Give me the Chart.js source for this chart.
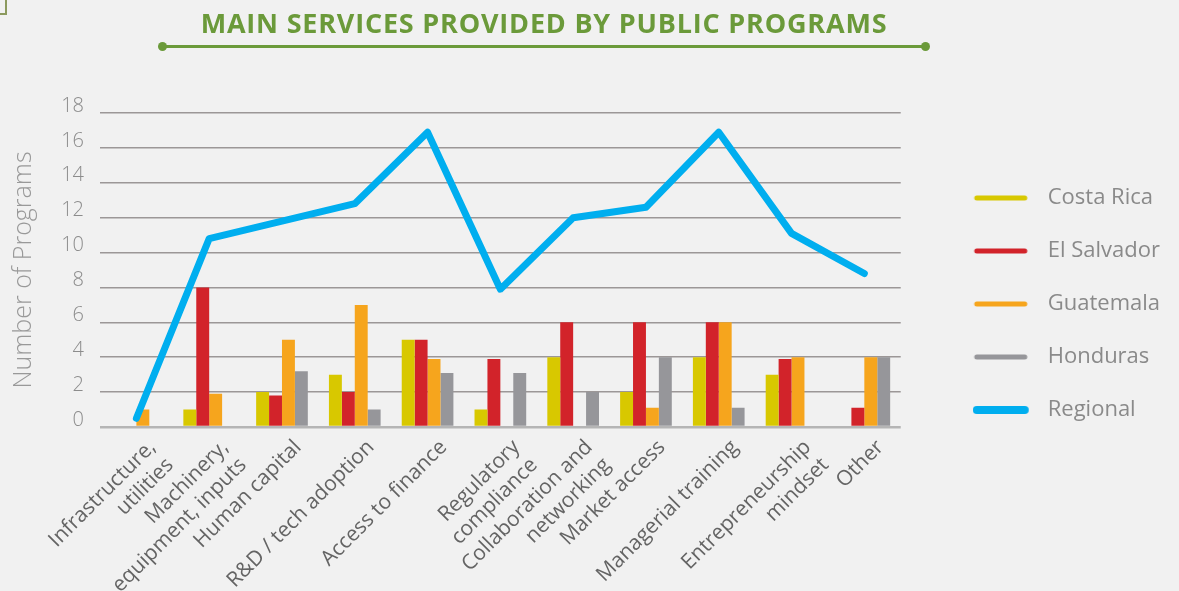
<!DOCTYPE html>
<html>
<head>
<meta charset="utf-8">
<script src="https://cdn.jsdelivr.net/npm/chart.js@4"></script>
<style>
  body { margin: 0; background: #f1f1f1; }
  #wrap { position: relative; width: 1179px; height: 591px; overflow: hidden; }
  #servicesChart { position: absolute; left: 0; top: 0; }
  .corner { position: absolute; left: -2px; top: -2px; width: 7px; height: 15px;
    border-right: 2px solid #8c9a5e; border-bottom: 2px solid #8c9a5e; }
  #title { position: absolute; left: 112px; width: 864px; top: 4px; text-align: center;
    font-family: 'Open Sans', sans-serif; font-weight: 700; font-size: 27px; color: #6b9a3a;
    letter-spacing: 0.8px; z-index: 2; }
  #rule { position: absolute; left: 162px; top: 45px; width: 764px; height: 3px; background: #6b9a3a; z-index: 2; }
  #rule span { position: absolute; top: -3px; width: 9px; height: 9px; border-radius: 50%; background: #6b9a3a; }
</style>
</head>
<body>
<div id="wrap">
  <div class="corner"></div>
  <div id="title">MAIN SERVICES PROVIDED BY PUBLIC PROGRAMS</div>
  <div id="rule"><span style="left:-4px"></span><span style="right:-4px"></span></div>
  <canvas id="servicesChart" width="1179" height="591"></canvas>
</div>
<script>
// services (x axis)
const categories = [
  ['Infrastructure,', 'utilities'], ['Machinery,', 'equipment, inputs'], 'Human capital',
  'R&D / tech adoption', 'Access to finance', ['Regulatory', 'compliance'],
  ['Collaboration and', 'networking'], 'Market access', 'Managerial training',
  ['Entrepreneurship', 'mindset'], 'Other'
]

// number of programs per country
const costaRica  = [0, 1, 2, 3, 5, 1, 4, 2, 4, 3, 0]
const elSalvador = [0, 8, 1.8, 2, 5, 3.9, 6, 6, 6, 3.9, 1.1]
const guatemala  = [1, 1.9, 5, 7, 3.9, 0, 0, 1.1, 6, 4, 4]
const honduras   = [0, 0, 3.2, 1, 3.1, 3.1, 2, 4, 1.1, 0, 4]
const regional   = [0.5, 10.8, 11.8, 12.8, 16.9, 7.9, 12, 12.6, 16.9, 11.1, 8.8]

const seriesNames = ['Costa Rica', 'El Salvador', 'Guatemala', 'Honduras', 'Regional']
const seriesColors = ['#d8c800', '#d2232a', '#f6a51d', '#96969a', '#00aeef']
const yTicks = [0, 2, 4, 6, 8, 10, 12, 14, 16, 18]

// little rounded stroke used as legend marker
function legendStroke(color, width) {
  const c = document.createElement('canvas')
  c.width = 64
  c.height = 10
  const g = c.getContext('2d')
  g.strokeStyle = color
  g.lineWidth = width
  g.lineCap = 'round'
  g.beginPath()
  g.moveTo(4, 5)
  g.lineTo(52, 5)
  g.stroke()
  return c
}

const barSeries = [costaRica, elSalvador, guatemala, honduras]
const datasets = barSeries.map((vals, i) => ({
  type: 'bar',
  label: seriesNames[i],
  data: vals,
  backgroundColor: seriesColors[i],
  borderWidth: 0,
  categoryPercentage: 0.71,
  barPercentage: 1,
  order: 1,
  xAxisID: 'x',
  yAxisID: 'y'
}))
datasets.push({
  type: 'line',
  label: seriesNames[4],
  data: regional,
  borderColor: seriesColors[4],
  borderWidth: 7,
  borderCapStyle: 'round',
  borderJoinStyle: 'round',
  pointRadius: 0,
  tension: 0,
  order: 0,
  xAxisID: 'x',
  yAxisID: 'y'
})

const grey = '#8a8a8a'

new Chart(document.getElementById('servicesChart').getContext('2d'), {
  type: 'bar',
  data: { labels: categories, datasets: datasets },
  options: {
    responsive: false,
    animation: false,
    layout: { padding: { top: 17, right: 9, bottom: 0, left: 0 } },
    plugins: {
      tooltip: { enabled: false },
      legend: {
        position: 'right',
        maxWidth: 320,
        labels: {
          usePointStyle: true,
          pointStyleWidth: 64,
          padding: 31,
          color: grey,
          font: { family: 'Open Sans', size: 22 },
          generateLabels: chart => chart.data.datasets.map((ds, i) => ({
            text: ds.label,
            pointStyle: legendStroke(seriesColors[i], i === 4 ? 8 : 5),
            fillStyle: seriesColors[i],
            strokeStyle: seriesColors[i],
            lineWidth: 0,
            fontColor: grey,
            hidden: false,
            datasetIndex: i
          }))
        }
      }
    },
    scales: {
      x: {
        position: 'bottom',
        offset: true,
        grid: { display: false },
        border: { display: false },
        ticks: {
          autoSkip: false, minRotation: 45, maxRotation: 45, padding: 0, labelOffset: 16,
          color: '#646464', font: { family: 'Open Sans', size: 21 }
        },
        afterFit: s => { s.height = 164 }
      },
      y: {
        position: 'left',
        min: 0,
        max: 18,
        afterBuildTicks: s => { s.ticks = yTicks.map(v => ({ value: v })) },
        grid: {
          drawTicks: false,
          color: c => c.tick && c.tick.value === 0 ? '#b5b5b5' : '#9c9797',
          lineWidth: c => c.tick && c.tick.value === 0 ? 2.5 : 1.5
        },
        border: { display: false },
        ticks: { padding: 16, labelOffset: -7, color: '#8c8c8c', font: { family: 'Open Sans', size: 20, weight: '300' } },
        title: {
          display: true, text: 'Number of Programs', color: '#999',
          font: { family: 'Open Sans', size: 25, weight: '300' }, padding: { top: 9, bottom: 0 }
        },
        afterFit: s => { s.width = 100 }
      },
      topSpace: {
        type: 'linear', position: 'top', display: true,
        grid: { display: false }, border: { display: false }, ticks: { display: false },
        afterFit: s => { s.height = 96 }
      },
      rightSpace: {
        type: 'linear', position: 'right', display: true,
        grid: { display: false }, border: { display: false }, ticks: { display: false },
        afterFit: s => { s.width = 41 }
      }
    }
  }
})
</script>
</body>
</html>
